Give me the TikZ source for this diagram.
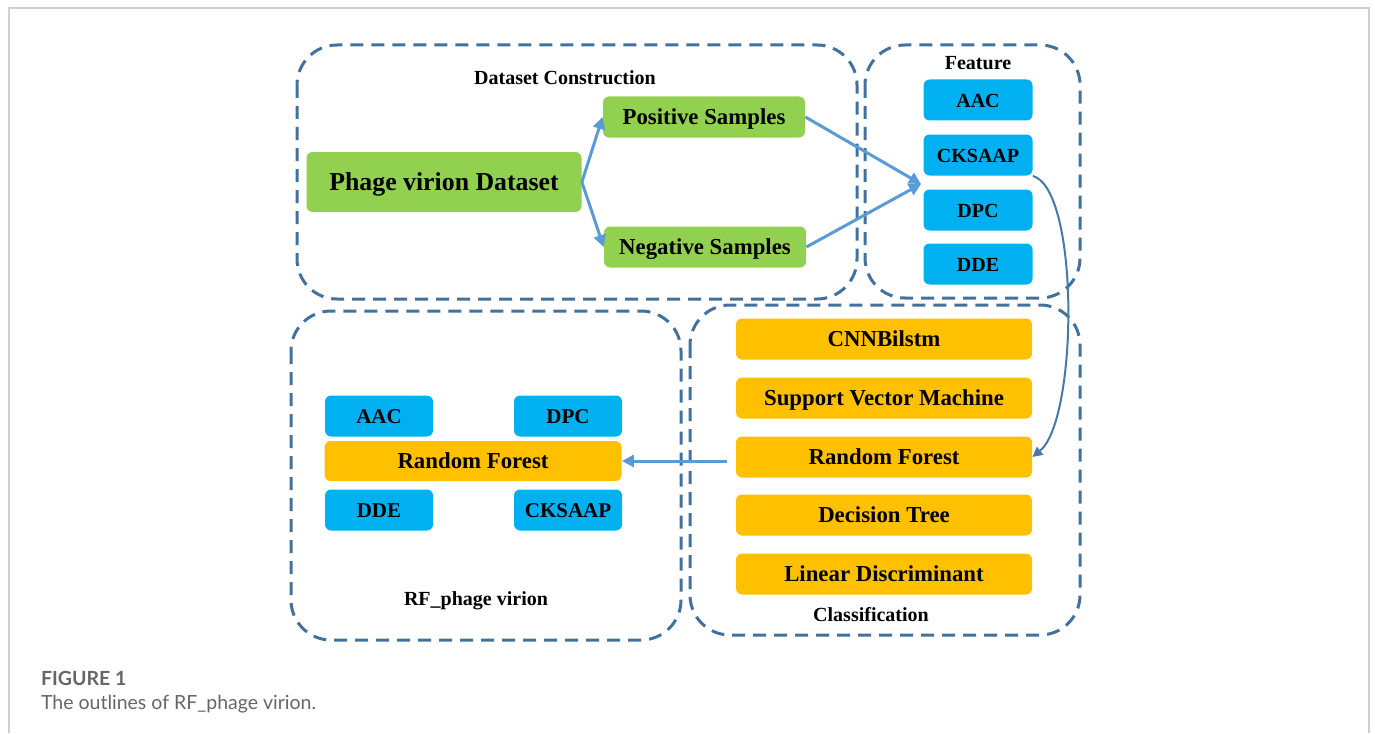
\documentclass[tikz,border=0pt]{standalone}
\usepackage{fontspec}
\setmainfont{Liberation Serif}
\newfontfamily\capfont{Lato}
\usetikzlibrary{arrows.meta}
\definecolor{dashblue}{HTML}{41719C}
\definecolor{arrowblue}{HTML}{5B9BD5}
\definecolor{boxgreen}{HTML}{92D050}
\definecolor{boxblue}{HTML}{00B0F0}
\definecolor{boxorange}{HTML}{FFC000}
\definecolor{framegray}{HTML}{D0D0D0}
\definecolor{capgray}{HTML}{666666}

\begin{document}
\begin{tikzpicture}[x=0.5pt,y=-0.5pt,
  region/.style={draw=dashblue,line width=1.5pt,dash pattern=on 6.5pt off 4pt,rounded corners=20pt},
  tag/.style={font=\bfseries\fontsize{10}{12}\selectfont},
  item/.style={rounded corners=3pt,inner sep=0pt,minimum height=20.5pt,text height=9pt,text depth=1.5pt,font=\bfseries\fontsize{11.4}{13}\selectfont},
  feat/.style={item,fill=boxblue,minimum width=54.5pt,font=\bfseries\fontsize{10}{12}\selectfont},
  model/.style={item,fill=boxorange,minimum width=148pt},
  sample/.style={item,fill=boxgreen,minimum width=101pt},
  flow/.style={arrowblue,line width=1.5pt,->},
  >={Triangle[length=6pt,width=6pt]}]
\useasboundingbox (0,0) rectangle (1375,733);
\draw[framegray,line width=1pt] (8.5,733)--(8.5,8.5)--(1369,8.5)--(1369,733);

% dashed regions
\draw[region] (297,45) rectangle (857,299);
\draw[region] (865,45) rectangle (1080,298);
\draw[region] (291,311) rectangle (681,640);
\draw[region] (690,305) rectangle (1080,635);
\node[tag] (dctag) at (565,78) {Dataset Construction};
\node[tag] (feattag) at (978,63) {Feature};
\node[tag] (rftag) at (476,601) {RF\_phage virion};
\node[tag] (clstag) at (871,615) {Classification};

% dataset construction
\node[item,fill=boxgreen,minimum width=137.5pt,minimum height=30pt,text height=10pt,font=\bfseries\fontsize{12.9}{15}\selectfont] (phage) at (444,182) {Phage virion Dataset};
\node[sample] (pos) at (704,117) {Positive Samples};
\node[sample] (neg) at (705,247) {Negative Samples};
\coordinate (fin) at (921,184);
\draw[flow] (phage.east)--(pos.west);
\draw[flow] (phage.east)--(neg.west);
\draw[flow] (pos.east)--(fin);
\draw[flow] (neg.east)--(fin);

% features
\foreach \name/\y/\txt in {aac/100/AAC,cks/155/CKSAAP,dpc/210/DPC,dde/264/DDE}{
  \node[feat] (\name) at (978,\y) {\txt};
}

% classifiers
\foreach \name/\y/\txt in {cnn/339/CNNBilstm,svm/398/Support Vector Machine,clsrf/457/Random Forest,dt/515/Decision Tree,lda/574/Linear Discriminant}{
  \node[model] (\name) at (884,\y) {\txt};
}
\draw[dashblue!80!arrowblue,line width=1pt,-{Triangle[length=5pt,width=5pt]}] (cks.south east) .. controls (1080,190) and (1078,420) .. (clsrf.east);

% final model
\node[model,minimum width=148.5pt,minimum height=20pt] (rf) at (473,461) {Random Forest};
\node[feat,minimum width=54pt,font=\bfseries\fontsize{10.5}{12}\selectfont] (rfaac) at (379,416) {AAC};
\node[feat,minimum width=54pt,font=\bfseries\fontsize{10.5}{12}\selectfont] (rfdpc) at (568,416) {DPC};
\node[feat,minimum width=54pt,font=\bfseries\fontsize{10.5}{12}\selectfont] (rfdde) at (379,510) {DDE};
\node[feat,minimum width=54pt,font=\bfseries\fontsize{10.5}{12}\selectfont] (rfcks) at (568,510) {CKSAAP};
\draw[flow,shorten <=4.5pt] (clsrf.west |- rf.east)--(rf.east);

% caption
\node[anchor=west,text=capgray,font=\capfont\bfseries\fontsize{9.75}{12}\selectfont] (fignum) at (34,678) {FIGURE 1};
\node[anchor=west,text=capgray,font=\capfont\fontsize{9.75}{12}\selectfont] (figcap) at (34,704) {The outlines of RF\_phage virion.};
\end{tikzpicture}
\end{document}
